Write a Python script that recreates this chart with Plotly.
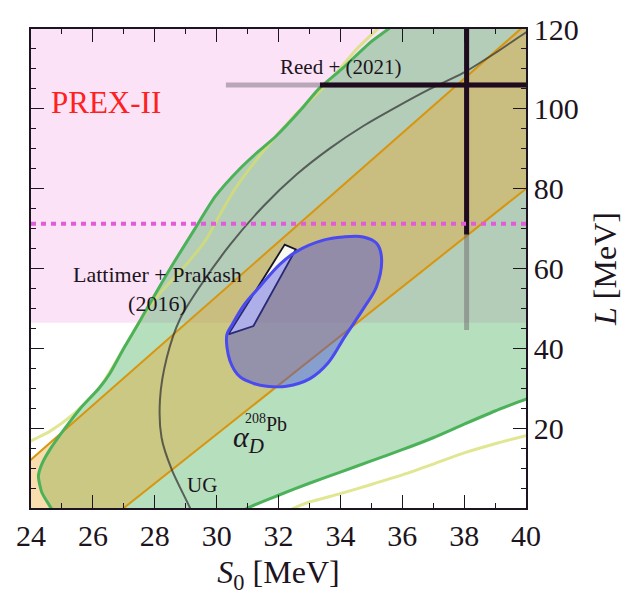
import plotly.graph_objects as go

FONT = "Liberation Serif"
INK = "#1c1420"

# ---- axes ----
x_range = [24, 40]
y_range = [0, 120]
x_ticks = [24, 26, 28, 30, 32, 34, 36, 38, 40]
y_ticks = [20, 40, 60, 80, 100, 120]

# ---- PREX-II (L band and central value) ----
prex_L_low = 46.4
prex_L_high = 120.0
prex_L_mean = 71.2

# ---- dipole polarizability of 208Pb: allowed region (green contour) ----
alphaD_S0 = [24.9, 24.65, 24.35, 24.24, 24.35, 24.6, 25.1, 25.6, 26.2, 26.55, 27.0, 27.5,
             27.75, 28.5, 29.3, 29.95, 30.75, 31.3, 31.9, 32.75, 33.3, 34.05, 34.96,
             35.55, 36.2, 44.0, 44.0,
             41.0, 40.0, 39.0, 38.0, 37.0, 36.0, 35.0, 34.0, 33.0, 32.0, 31.0, 30.4, 24.9]
alphaD_L = [-3.0, 0.0, 3.9, 8.0, 11.0, 14.5, 20.0, 25.0, 30.0, 33.7, 40.0, 46.6,
            50.0, 60.0, 70.0, 78.0, 85.0, 89.0, 93.0, 100.0, 105.0, 110.0, 116.6,
            120.0, 124.0, 124.0, 30.0,
            30.3, 27.3, 24.3, 21.0, 17.6, 14.6, 11.8, 9.0, 6.2, 3.2, 0.0, -3.0, -3.0]

# ---- second (wider) contour, line only ----
outer_S0 = [23.0, 24.0, 24.61, 25.37, 26.2, 27.0, 27.5, 28.17, 29.03, 29.68, 30.0, 30.6,
            31.5, 32.59, 33.45, 34.53, 35.17, 35.6, 44.0, 44.0,
            41.0, 40.0, 39.0, 38.0, 37.0, 36.0, 35.0, 34.0, 33.0, 32.5, 31.8, 23.0, 23.0]
outer_L = [12.5, 16.8, 19.2, 23.5, 30.0, 40.0, 46.6, 53.8, 61.1, 67.5, 72.0, 80.0,
           89.3, 98.9, 105.3, 115.0, 119.8, 123.0, 123.0, 19.0,
           20.0, 18.1, 16.1, 13.8, 11.0, 8.3, 5.9, 3.6, 1.5, 0.0, -3.0, -3.0, 12.5]

# ---- orange band: upper and lower edges ----
band_up_S0 = [22.0, 41.0]
band_up_L = [-1.5, 128.0]
band_lo_S0 = [25.0, 42.0]
band_lo_L = [-12.3, 92.3]

# ---- unitary gas (UG) bound ----
ug_S0 = [29.3, 29.14, 28.55, 28.22, 28.17, 28.39, 28.82, 29.46, 30.43, 31.51, 32.59,
         33.66, 34.74, 35.82, 36.90, 37.97, 39.05, 39.97, 40.6]
ug_L = [-3.0, 0.0, 9.6, 17.6, 27.3, 37.7, 47.4, 55.5, 65.9, 75.6, 83.6,
        90.1, 95.7, 100.5, 105.0, 109.0, 114.2, 119.0, 122.0]

# ---- Lattimer + Prakash (2016) polygon ----
lp_S0 = [30.38, 31.19, 32.56, 32.2, 30.38]
lp_L = [43.5, 45.6, 64.8, 66.0, 43.5]

# ---- blue contour ----
blob_S0 = [30.33, 30.43, 30.75, 31.2, 31.62, 32.26, 33.02, 33.6, 34.15, 34.75, 35.17,
           35.33, 35.17, 34.74, 34.09, 33.45, 32.59, 32.05, 31.40, 30.86, 30.49, 30.33]
blob_L = [43.4, 36.9, 32.9, 31.2, 30.5, 30.5, 32.4, 36.3, 43.0, 50.0, 55.5,
          62.7, 66.3, 67.9, 67.9, 67.1, 64.3, 61.1, 55.5, 50.6, 45.8, 43.4]

# ---- Reed + (2021): central values and error bars ----
reed_S0 = 38.08
reed_L = 106.0
reed_S0_err_in = 4.74
reed_S0_err_out = 7.78
reed_L_err_in = 37.5
reed_L_err_out = 61.4

fig = go.Figure()

# PREX-II band underneath everything
fig.add_shape(type="rect", xref="paper", yref="y", x0=0, x1=1,
              y0=prex_L_low, y1=prex_L_high, layer="below",
              fillcolor="#fbe2f7", line=dict(width=0))

# filled regions
fig.add_trace(go.Scatter(x=alphaD_S0, y=alphaD_L, mode="lines", fill="toself",
                         fillcolor="rgba(62,172,82,0.38)", line=dict(width=0),
                         line_shape="spline", line_smoothing=0.6, hoverinfo="skip"))
fig.add_trace(go.Scatter(x=band_up_S0 + band_lo_S0[::-1], y=band_up_L + band_lo_L[::-1],
                         mode="lines", fill="toself",
                         fillcolor="rgba(240,160,30,0.36)", line=dict(width=0),
                         hoverinfo="skip"))

# band edges
orange = "#d8950e"
fig.add_trace(go.Scatter(x=band_up_S0, y=band_up_L, mode="lines",
                         line=dict(color=orange, width=2)))
fig.add_trace(go.Scatter(x=band_lo_S0, y=band_lo_L, mode="lines",
                         line=dict(color=orange, width=2)))

# contour outlines
fig.add_trace(go.Scatter(x=outer_S0, y=outer_L, mode="lines",
                         line=dict(color="rgba(214,222,110,0.75)", width=3,
                                   shape="spline", smoothing=0.6)))
fig.add_trace(go.Scatter(x=alphaD_S0, y=alphaD_L, mode="lines",
                         line=dict(color="#4cb25a", width=3,
                                   shape="spline", smoothing=0.6)))

# UG bound
fig.add_trace(go.Scatter(x=ug_S0, y=ug_L, mode="lines",
                         line=dict(color="rgba(55,55,55,0.75)", width=2,
                                   shape="spline", smoothing=0.8)))

# Lattimer + Prakash polygon, then the translucent blue region over it
fig.add_trace(go.Scatter(x=lp_S0, y=lp_L, mode="lines", fill="toself",
                         fillcolor="rgba(252,252,245,0.95)",
                         line=dict(color="#141428", width=1.8)))
fig.add_trace(go.Scatter(x=blob_S0, y=blob_L, mode="lines", fill="toself",
                         fillcolor="rgba(72,72,225,0.42)",
                         line=dict(color="#4a4af0", width=3, shape="spline")))

# Reed + (2021) error bars: outer (grey) then inner (black)
fig.add_trace(go.Scatter(
    x=[reed_S0 - reed_S0_err_out, reed_S0 + reed_S0_err_out, None, reed_S0, reed_S0],
    y=[reed_L, reed_L, None, reed_L - reed_L_err_out, reed_L + reed_L_err_out],
    mode="lines", line=dict(color="rgba(105,95,105,0.45)", width=5)))
fig.add_trace(go.Scatter(
    x=[reed_S0 - reed_S0_err_in, reed_S0 + reed_S0_err_in, None, reed_S0, reed_S0],
    y=[reed_L, reed_L, None, reed_L - reed_L_err_in, reed_L + reed_L_err_in],
    mode="lines", line=dict(color="#1e0c1e", width=5)))

# PREX-II central value
fig.add_trace(go.Scatter(x=x_range, y=[prex_L_mean, prex_L_mean], mode="lines",
                         line=dict(color="#e25bd9", width=4, dash="5px,5px")))

def label(x, y, text, size, color=INK, **kw):
    fig.add_annotation(x=x, y=y, xref="x", yref="y", text=text, showarrow=False,
                       font=dict(family=FONT, size=size, color=color), **kw)

label(26.42, 101.7, "PREX-II", 31, color="#ff2020")
label(34.02, 110.6, "Reed + (2021)", 21)
label(28.09, 54.8, "Lattimer + Prakash<br>(2016)", 22)
label(29.52, 5.8, "UG", 21)
label(30.45, 17.4, "<i>α</i><sub><i>D</i></sub>", 30, xanchor="left")
label(30.85, 21.2, "<sup>208</sup>Pb", 20, xanchor="left")

axis_common = dict(
    showgrid=False, zeroline=False, showline=True, linecolor=INK, linewidth=1.5,
    ticks="inside", ticklen=13, tickwidth=1.3, tickcolor=INK, mirror="allticks",
    tickfont=dict(family=FONT, size=30, color=INK), ticklabeloverflow="allow",
)

fig.update_layout(
    width=633, height=596,
    margin=dict(l=31, r=107, t=16, b=83),
    paper_bgcolor="white", plot_bgcolor="white",
    showlegend=False,
    xaxis=dict(range=x_range, tickmode="array", tickvals=x_ticks,
               minor=dict(dtick=1, tick0=24, ticks="inside", ticklen=5,
                          tickwidth=1.3, tickcolor=INK),
               title=dict(text="<i>S</i><sub>0</sub> [MeV]", standoff=10,
                          font=dict(family=FONT, size=32, color=INK)),
               **axis_common),
    yaxis=dict(range=y_range, side="right", tickmode="array", tickvals=y_ticks,
               minor=dict(dtick=5, tick0=0, ticks="inside", ticklen=5,
                          tickwidth=1.3, tickcolor=INK),
               title=dict(text="<i>L</i> [MeV]", standoff=16,
                          font=dict(family=FONT, size=32, color=INK)),
               **axis_common),
)

fig.write_html("out.html")
